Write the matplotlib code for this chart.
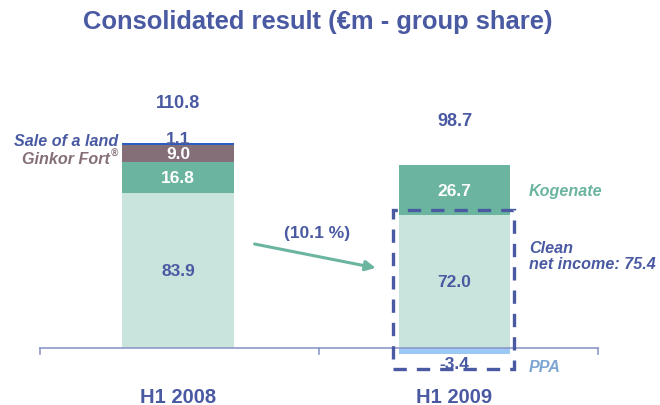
import matplotlib.pyplot as plt
from matplotlib.patches import Rectangle, FancyArrowPatch

plt.rcParams['font.family'] = ['Liberation Sans', 'DejaVu Sans']

# periods and stacked components (EUR m)
periods = ['H1 2008', 'H1 2009']
totals = [110.8, 98.7]
base_2008 = [83.9, 16.8, 9.0, 1.1]     # core, Kogenate, Ginkor Fort, sale of a land
base_2009 = [72.0, 26.7]               # core, Kogenate
ppa_2009 = -3.4
clean_income = 75.4
change_label = '(10.1 %)'

BLUE = '#4a5aa2'
LIGHT = '#c8e4dc'
TEAL = '#6bb5a0'
MAUVE = '#846f78'
LINE = '#2a5cc4'
PPA_C = '#9cc8f6'

fig = plt.figure(figsize=(6.6, 4.06), dpi=100)
ax = fig.add_axes([0, 0, 1, 1])
scale = 1.85  # pixels per EUR m
ax.set_xlim(-178 / 276.5, (660 - 178) / 276.5)
ax.set_ylim(-57 / scale, (406 - 57) / scale)
ax.axis('off')

x = [0, 1]
w = 0.405

# H1 2008 stack
cols_2008 = [LIGHT, TEAL, MAUVE, LINE]
bottom = 0
for v, c in zip(base_2008, cols_2008):
    ax.bar(x[0], v, w, bottom=bottom, color=c, linewidth=0)
    bottom += v

# H1 2009 stack
cols_2009 = [LIGHT, TEAL]
bottom = 0
for v, c in zip(base_2009, cols_2009):
    ax.bar(x[1], v, w, bottom=bottom, color=c, linewidth=0)
    bottom += v
ax.bar(x[1], ppa_2009, w, color=PPA_C, linewidth=0)

# baseline with ticks
ax.plot([-0.5, 1.52], [0, 0], color='#8c98c8', lw=1.2, zorder=3)
for t in [-0.5, 0.51, 1.52]:
    ax.plot([t, t], [0, -3.5], color='#8c98c8', lw=1.2, zorder=3)

bold = dict(fontweight='bold', ha='center', va='center')
fs = 12.5

# segment labels
ax.text(x[0], base_2008[0] / 2, f'{base_2008[0]:.1f}', color=BLUE, fontsize=fs, **bold)
c0 = base_2008[0]
ax.text(x[0], c0 + base_2008[1] / 2, f'{base_2008[1]:.1f}', color='white', fontsize=fs, **bold)
c0 += base_2008[1]
ax.text(x[0], c0 + base_2008[2] / 2, f'{base_2008[2]:.1f}', color='white', fontsize=fs, **bold)
c0 += base_2008[2]
ax.text(x[0], c0 + base_2008[3] + 2.5, f'{base_2008[3]:.1f}', color=BLUE, fontsize=fs, **bold)

ax.text(x[1], base_2009[0] / 2, f'{base_2009[0]:.1f}', color=BLUE, fontsize=fs, **bold)
ax.text(x[1], base_2009[0] + base_2009[1] / 2, f'{base_2009[1]:.1f}', color='white', fontsize=fs, **bold)
ax.text(x[1], ppa_2009 - 5.0, f'{ppa_2009:.1f}', color=BLUE, fontsize=fs, **bold)

# totals
ax.text(x[0], totals[0] + 22.0, f'{totals[0]:.1f}', color=BLUE, fontsize=13, **bold)
ax.text(x[1], totals[1] + 24.5, f'{totals[1]:.1f}', color=BLUE, fontsize=13, **bold)

# side annotations
it = dict(fontweight='bold', style='italic', fontsize=11.6, va='center')
ax.text(-0.215, 112.2, 'Sale of a land', color=BLUE, ha='right', **it)
ax.text(-0.245, 102.4, 'Ginkor Fort', color=MAUVE, ha='right', **it)
ax.text(-0.243, 105.2, '®', color=MAUVE, ha='left', fontsize=7, fontweight='bold',
        style='italic', va='center')
ax.text(1.27, base_2009[0] + base_2009[1] / 2, 'Kogenate', color=TEAL, ha='left', **it)
ax.text(1.27, 50, 'Clean\nnet income: ' + f'{clean_income:.1f}', color=BLUE, ha='left',
        linespacing=1.15, **it)
ax.text(1.27, ppa_2009 - 6.5, 'PPA', color='#7ea6d2', ha='left', **it)

# dashed frame around clean net income
frame = Rectangle((0.778, -11.4), 1.215 - 0.778, base_2009[0] + 11.4 + 2.5, fill=False,
                  edgecolor=BLUE, lw=2.4, linestyle=(0, (4, 3)), zorder=4)
ax.add_patch(frame)

# change arrow
arr = FancyArrowPatch((0.267, 56.5), (0.725, 43.0), arrowstyle='-|>', mutation_scale=15,
                      color=TEAL, lw=2.2, zorder=4)
ax.add_patch(arr)
ax.text(0.504, 62.5, change_label, color=BLUE, fontsize=fs, **bold)

# category labels
for xi, p in zip(x, periods):
    ax.text(xi, -26, p, color=BLUE, fontsize=14.5, **bold)

fig.text(0.482, 0.945, 'Consolidated result (€m - group share)', color=BLUE,
         fontsize=18.4, fontweight='bold', ha='center', va='center')

fig.savefig('out.png', dpi=100)
